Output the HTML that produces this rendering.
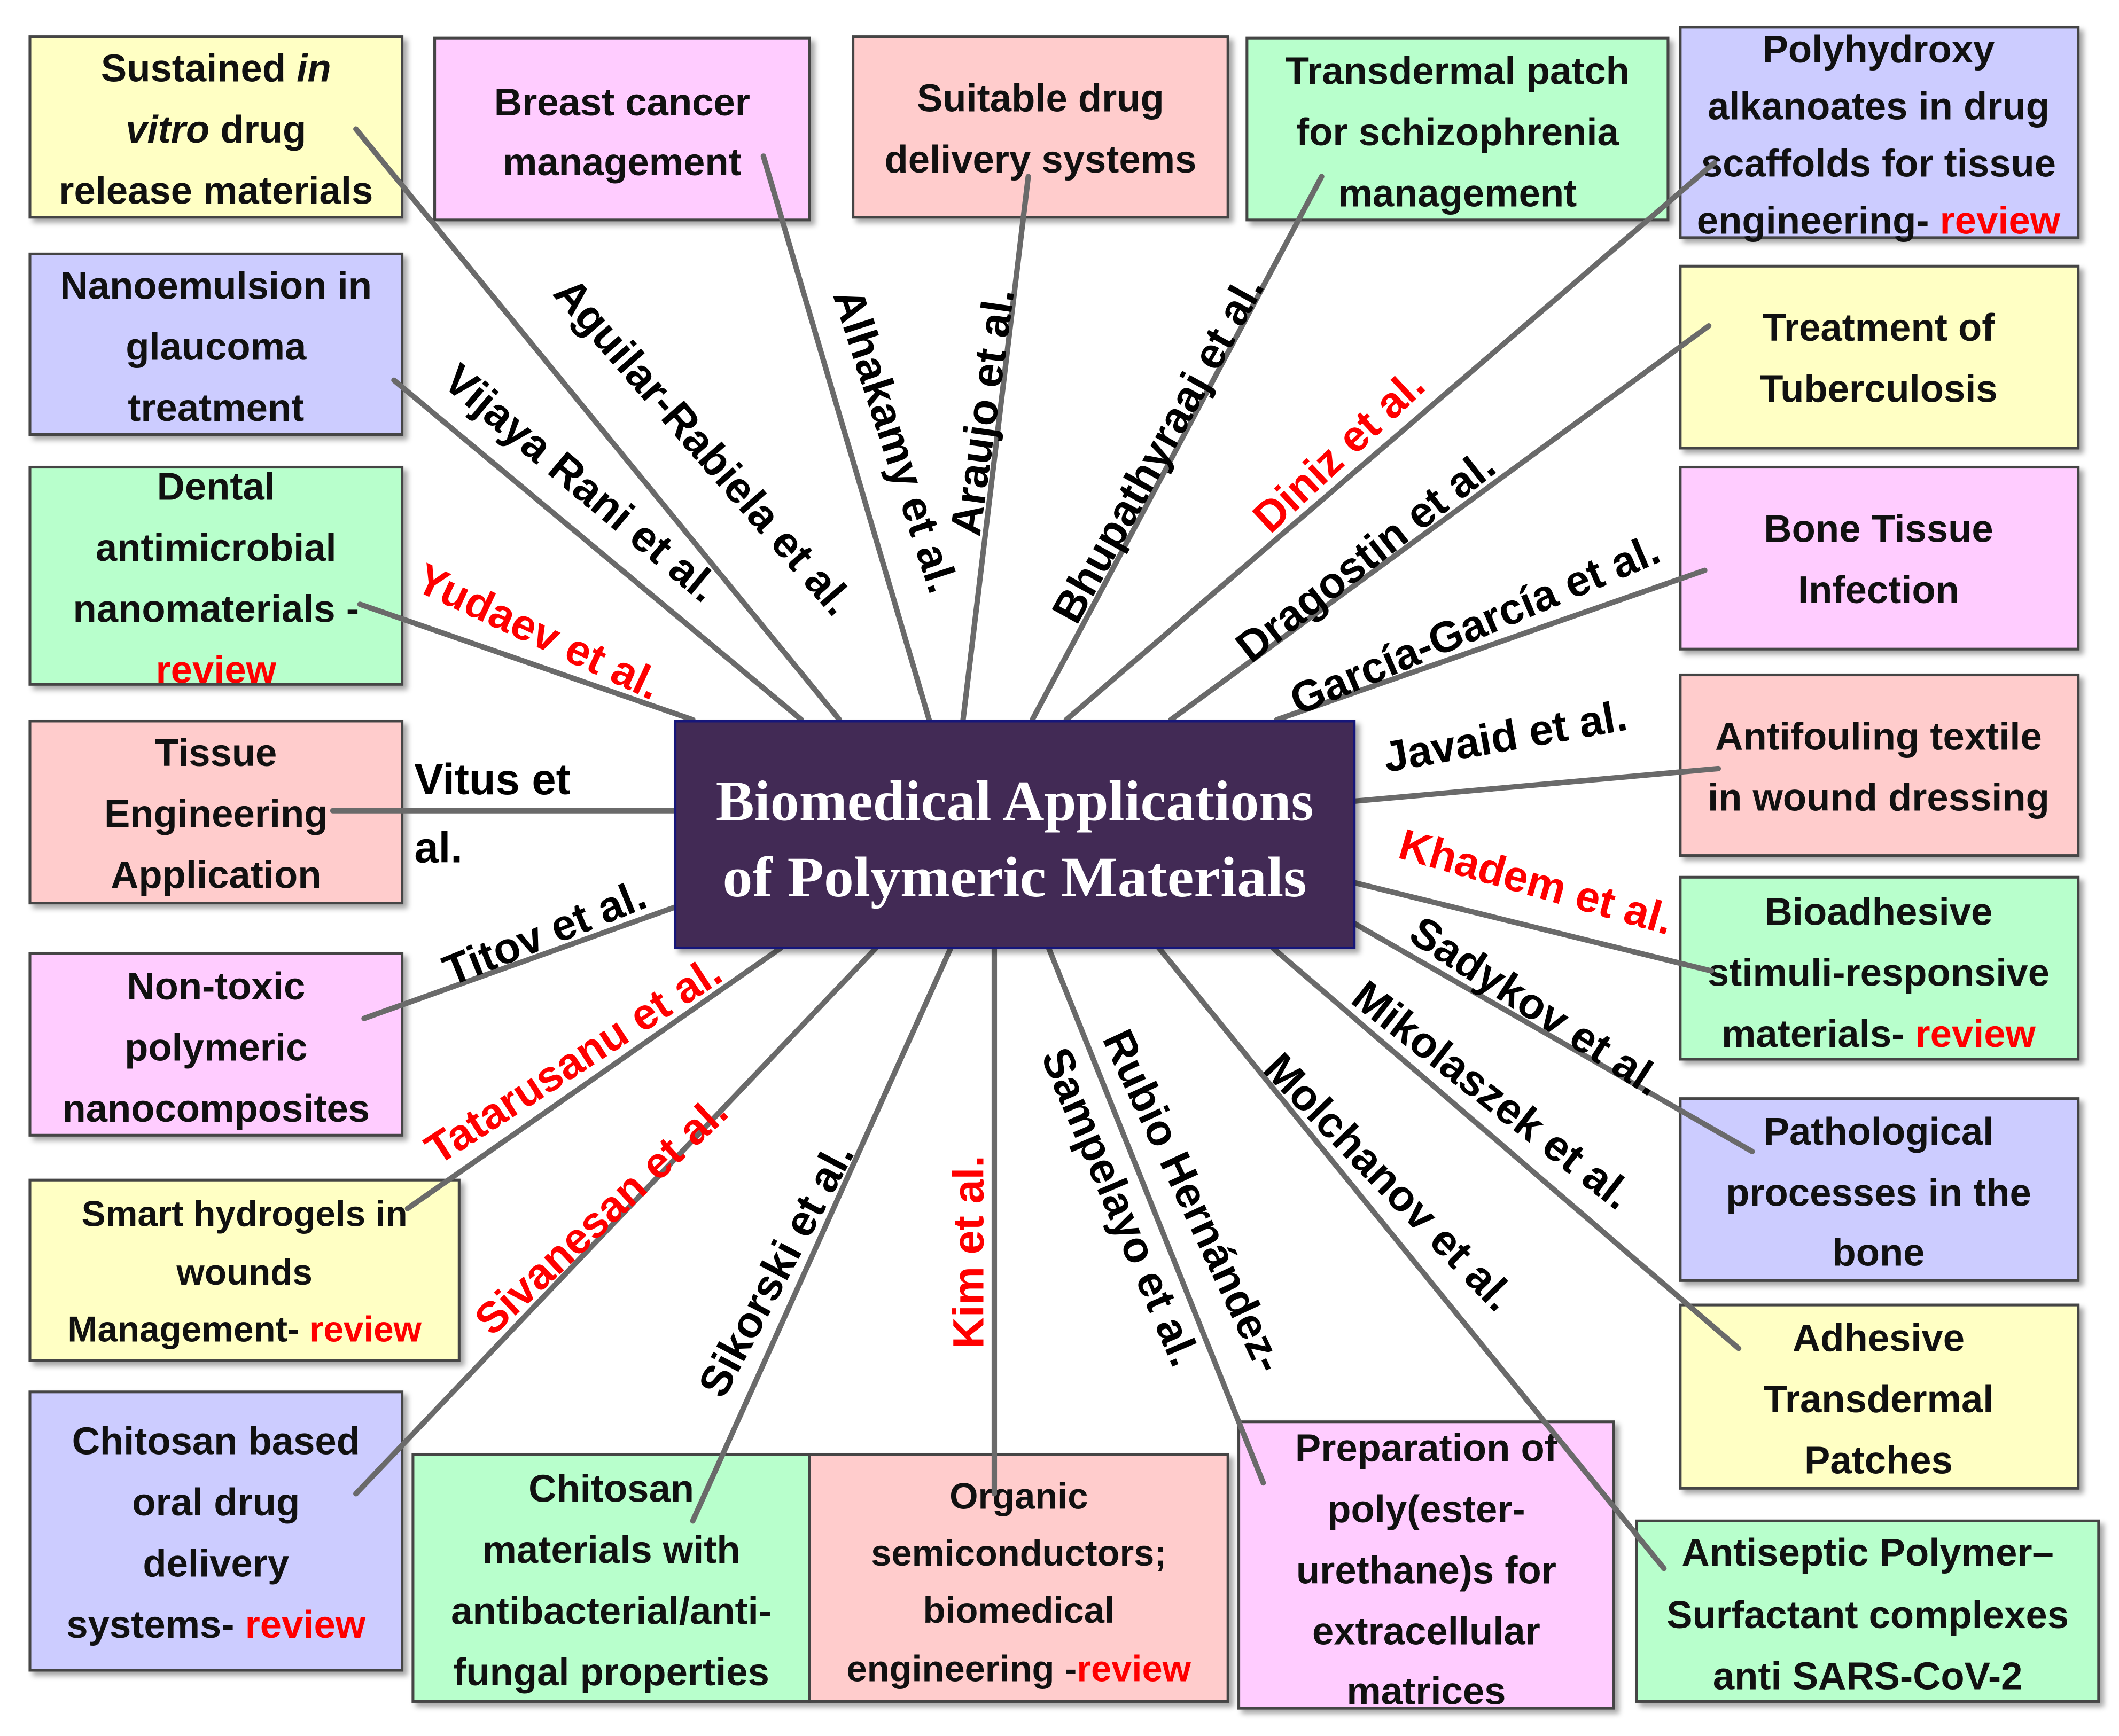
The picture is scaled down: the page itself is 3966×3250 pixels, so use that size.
<!DOCTYPE html>
<html><head><meta charset="utf-8"><style>
html,body{margin:0;padding:0;background:#fff}
svg{display:block}
.bt{font-family:"Liberation Sans",sans-serif;font-weight:bold;font-size:28.5px;fill:#111;text-anchor:middle}
.lb{font-family:"Liberation Sans",sans-serif;font-weight:bold;font-size:32px;fill:#000;text-anchor:middle}
.r{fill:#f00}
.ln{stroke:#6a6a6a;stroke-width:4;stroke-linecap:round}
</style></head><body>
<svg width="3966" height="3250" viewBox="0 0 1560 1278.4" xmlns="http://www.w3.org/2000/svg">
<defs><filter id="sh" x="-5%" y="-5%" width="115%" height="115%"><feDropShadow dx="3" dy="3" stdDeviation="2" flood-color="#000" flood-opacity="0.35"/></filter></defs>
<g stroke="#444" stroke-width="2" filter="url(#sh)">
<rect x="22" y="27" width="274" height="133" fill="#ffffc4"/>
<rect x="320" y="28" width="276" height="134" fill="#ffccff"/>
<rect x="628" y="27" width="276" height="133" fill="#ffcccc"/>
<rect x="918" y="28" width="310" height="134" fill="#b8ffcc"/>
<rect x="1237" y="20" width="293" height="155" fill="#ccccff"/>
<rect x="22" y="187" width="274" height="133" fill="#ccccff"/>
<rect x="1237" y="196" width="293" height="134" fill="#ffffc4"/>
<rect x="22" y="344" width="274" height="160" fill="#b8ffcc"/>
<rect x="1237" y="344" width="293" height="134" fill="#ffccff"/>
<rect x="22" y="531" width="274" height="134" fill="#ffcccc"/>
<rect x="1237" y="497" width="293" height="133" fill="#ffcccc"/>
<rect x="22" y="702" width="274" height="134" fill="#ffccff"/>
<rect x="1237" y="646" width="293" height="134" fill="#b8ffcc"/>
<rect x="22" y="869" width="316" height="133" fill="#ffffc4"/>
<rect x="1237" y="809" width="293" height="134" fill="#ccccff"/>
<rect x="22" y="1025" width="274" height="205" fill="#ccccff"/>
<rect x="1237" y="961" width="293" height="135" fill="#ffffc4"/>
<rect x="304" y="1071" width="292" height="182" fill="#b8ffcc"/>
<rect x="596" y="1071" width="308" height="182" fill="#ffcccc"/>
<rect x="912" y="1047" width="276" height="211" fill="#ffccff"/>
<rect x="1205" y="1120" width="340" height="133" fill="#b8ffcc"/>
</g>
<g class="bt">
<text x="159" y="60">Sustained <tspan font-style="italic">in</tspan></text><text x="159" y="105"><tspan font-style="italic">vitro</tspan> drug</text><text x="159" y="150">release materials</text>
<text x="458" y="85">Breast cancer</text><text x="458" y="129">management</text>
<text x="766" y="82">Suitable drug</text><text x="766" y="127">delivery systems</text>
<text x="1073" y="62">Transdermal patch</text><text x="1073" y="107">for schizophrenia</text><text x="1073" y="152">management</text>
<text x="1383" y="46">Polyhydroxy</text><text x="1383" y="88">alkanoates  in drug</text><text x="1383" y="130">scaffolds for tissue</text><text x="1383" y="172">engineering- <tspan class="r">review</tspan></text>
<text x="159" y="220">Nanoemulsion in</text><text x="159" y="265">glaucoma</text><text x="159" y="310">treatment</text>
<text x="1383" y="251">Treatment of</text><text x="1383" y="296">Tuberculosis</text>
<text x="159" y="368">Dental</text><text x="159" y="413">antimicrobial</text><text x="159" y="458">nanomaterials -</text><text x="159" y="503" class="r">review</text>
<text x="1383" y="399">Bone Tissue</text><text x="1383" y="444">Infection</text>
<text x="159" y="564">Tissue</text><text x="159" y="609">Engineering</text><text x="159" y="654">Application</text>
<text x="1383" y="552">Antifouling textile</text><text x="1383" y="597">in wound dressing</text>
<text x="159" y="736">Non-toxic</text><text x="159" y="781">polymeric</text><text x="159" y="826">nanocomposites</text>
<text x="1383" y="681">Bioadhesive</text><text x="1383" y="726">stimuli-responsive</text><text x="1383" y="771">materials- <tspan class="r">review</tspan></text>
<text x="180" y="903" font-size="26.5">Smart hydrogels in</text><text x="180" y="946" font-size="26.5">wounds</text><text x="180" y="988" font-size="26.5">Management- <tspan class="r">review</tspan></text>
<text x="1383" y="843">Pathological</text><text x="1383" y="888">processes in the</text><text x="1383" y="932">bone</text>
<text x="159" y="1071">Chitosan based</text><text x="159" y="1116">oral drug</text><text x="159" y="1161">delivery</text><text x="159" y="1206">systems- <tspan class="r">review</tspan></text>
<text x="1383" y="995">Adhesive</text><text x="1383" y="1040">Transdermal</text><text x="1383" y="1085">Patches</text>
<text x="450" y="1106">Chitosan</text><text x="450" y="1151">materials with</text><text x="450" y="1196">antibacterial/anti-</text><text x="450" y="1241">fungal properties</text>
<text x="750" y="1111" font-size="27">Organic</text><text x="750" y="1153" font-size="27">semiconductors;</text><text x="750" y="1195" font-size="27">biomedical</text><text x="750" y="1238" font-size="27">engineering -<tspan class="r">review</tspan></text>
<text x="1050" y="1076">Preparation of</text><text x="1050" y="1121">poly(ester-</text><text x="1050" y="1166">urethane)s for</text><text x="1050" y="1211">extracellular</text><text x="1050" y="1255">matrices</text>
<text x="1375" y="1153">Antiseptic Polymer–</text><text x="1375" y="1199">Surfactant complexes</text><text x="1375" y="1244">anti SARS-CoV-2</text>
</g>
<g class="ln">
<line x1="262" y1="95" x2="618" y2="530"/>
<line x1="562" y1="115" x2="684" y2="530"/>
<line x1="757" y1="130" x2="709" y2="530"/>
<line x1="973" y1="130" x2="760" y2="530"/>
<line x1="1262" y1="120" x2="785" y2="530"/>
<line x1="1258" y1="240" x2="862" y2="530"/>
<line x1="1255" y1="420" x2="940" y2="530"/>
<line x1="1265" y1="566" x2="997" y2="590"/>
<line x1="1260" y1="715" x2="997" y2="650"/>
<line x1="1290" y1="848" x2="997" y2="680"/>
<line x1="1280" y1="993" x2="937" y2="698"/>
<line x1="1225" y1="1155" x2="845" y2="688"/>
<line x1="930" y1="1092" x2="772" y2="698"/>
<line x1="732" y1="1100" x2="732" y2="698"/>
<line x1="510" y1="1120" x2="700" y2="698"/>
<line x1="262" y1="1100" x2="645" y2="698"/>
<line x1="300" y1="890" x2="575" y2="698"/>
<line x1="268" y1="750" x2="497" y2="668"/>
<line x1="245" y1="597" x2="497" y2="597"/>
<line x1="265" y1="445" x2="510" y2="530"/>
<line x1="290" y1="280" x2="590" y2="530"/>
</g>
<rect x="497" y="531" width="500" height="167" fill="#422c54" stroke="#14147a" stroke-width="2" filter="url(#sh)"/>
<text x="747" y="604" font-family="Liberation Serif,serif" font-weight="bold" font-size="42" fill="#fff" text-anchor="middle" textLength="440" lengthAdjust="spacingAndGlyphs">Biomedical Applications</text>
<text x="747" y="660" font-family="Liberation Serif,serif" font-weight="bold" font-size="42" fill="#fff" text-anchor="middle" textLength="430" lengthAdjust="spacingAndGlyphs">of  Polymeric Materials</text>
<g class="lb">
<text transform="translate(510,336) rotate(49)">Aguilar-Rabiela et al.</text>
<text transform="translate(649,328) rotate(72)">Alhakamy et al.</text>
<text transform="translate(734,305) rotate(-82)">Araujo et al.</text>
<text transform="translate(862,336) rotate(-61)">Bhupathyraaj et al.</text>
<text class="r" transform="translate(993,340) rotate(-43)">Diniz et al.</text>
<text transform="translate(1012,418) rotate(-38)">Dragostin et al.</text>
<text transform="translate(1090,470) rotate(-23)">García-García et al.</text>
<text transform="translate(1110,553) rotate(-10)">Javaid et al.</text>
<text class="r" transform="translate(1128,660) rotate(16)">Khadem et al.</text>
<text transform="translate(1125,750) rotate(33)">Sadykov et al.</text>
<text transform="translate(1092,815) rotate(38)">Mikolaszek et al.</text>
<text transform="translate(1015,878) rotate(46)">Molchanov et al.</text>
<text transform="translate(869,889) rotate(65)">Rubio Hernández-</text>
<text transform="translate(815,893) rotate(67)">Sampelayo et al.</text>
<text class="r" transform="translate(724,922) rotate(-90)">Kim et al.</text>
<text transform="translate(581,940) rotate(-62)">Sikorski et al.</text>
<text class="r" transform="translate(450,903) rotate(-43)">Sivanesan et al.</text>
<text class="r" transform="translate(428,790) rotate(-33)">Tatarusanu et al.</text>
<text transform="translate(405,697) rotate(-22)">Titov et al.</text>
<text x="305" y="585" text-anchor="start">Vitus et</text>
<text x="305" y="635" text-anchor="start">al.</text>
<text class="r" transform="translate(392,475) rotate(25)">Yudaev et al.</text>
<text transform="translate(421,364) rotate(40)">Vijaya Rani et al.</text>
</g>
</svg>
</body></html>
